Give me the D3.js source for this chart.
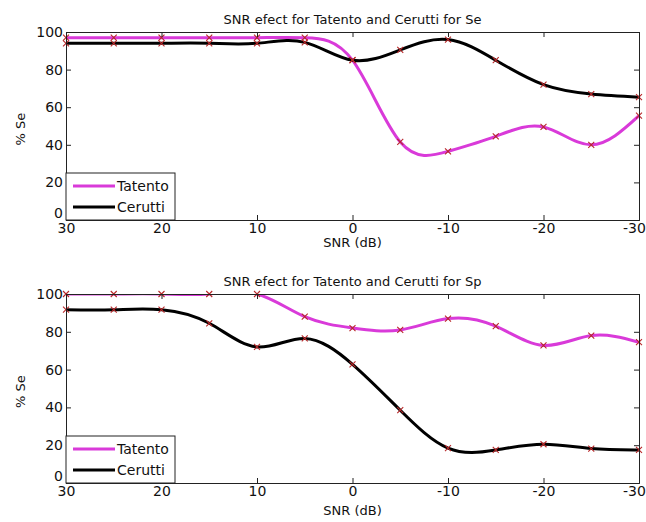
<!DOCTYPE html>
<html>
<head>
<meta charset="utf-8">
<script src="https://cdn.jsdelivr.net/npm/d3@7"></script>
<style>
  body { margin: 0; background: #fff; }
  text { font-family: "DejaVu Sans", Arial, sans-serif; fill: #111; }
</style>
</head>
<body>
<div id="chart"></div>
<script>
var snr = [30, 25, 20, 15, 10, 5, 0, -5, -10, -15, -20, -25, -30];
var xTicks = [30, 20, 10, 0, -10, -20, -30];
var yTicks = [0, 20, 40, 60, 80, 100];

var tatentoSe = [97, 97, 97, 97, 97, 97, 85, 41.5, 36.5, 44.5, 49.5, 40, 55.5];
var ceruttiSe = [94, 94, 94, 94, 94, 94.5, 85, 90.5, 96, 85, 72, 67, 65.3];
var tatentoSp = [100, 100, 100, 100, 100, 88, 82, 81, 87, 83, 72.8, 78, 74.5];
var ceruttiSp = [91.7, 91.7, 91.7, 84.5, 72, 76.5, 62.8, 38.5, 18.5, 17.5, 20.5, 18.2, 17.5];

var panels = [
    { title: 'SNR efect for Tatento and Cerutti for Se', top: 32, bottom: 220, lab: 27, t: tatentoSe, c: ceruttiSe },
    { title: 'SNR efect for Tatento and Cerutti for Sp', top: 294, bottom: 483, lab: 32, t: tatentoSp, c: ceruttiSp }
];

var W = 646, H = 522;
var left = 66, right = 639;
var magenta = '#d93ad9';
var markClr = '#b8282a';

var svg = d3.select('#chart').append('svg')
    .attr('width', W).attr('height', H);

var x = d3.scaleLinear().domain([30, -30]).range([left, right]);

panels.forEach(function(p, pi) {
    var y = d3.scaleLinear().domain([0, 100]).range([p.bottom, p.top]);
    var g = svg.append('g');

    svg.append('clipPath').attr('id', 'clip' + pi)
        .append('rect')
        .attr('x', left).attr('y', p.top)
        .attr('width', right - left).attr('height', p.bottom - p.top);

    var line = d3.line()
        .x(function(d) { return x(d[0]); })
        .y(function(d) { return y(d[1]); })
        .curve(d3.curveNatural);

    var series = [
        { vals: p.t, clr: magenta, w: 3 },
        { vals: p.c, clr: '#000', w: 3 }
    ];
    var plot = g.append('g').attr('clip-path', 'url(#clip' + pi + ')');
    series.forEach(function(s) {
        var pts = snr.map(function(v, i) { return [v, s.vals[i]]; });
        plot.append('path')
            .datum(pts)
            .attr('d', line)
            .style('fill', 'none')
            .style('stroke', s.clr)
            .style('stroke-width', s.w);

        g.selectAll(null).data(pts).enter().append('path')
            .attr('d', function(d) {
                var cx = x(d[0]), cy = y(d[1]), r = 3;
                return 'M' + (cx - r) + ',' + (cy - r) + 'L' + (cx + r) + ',' + (cy + r) +
                    'M' + (cx - r) + ',' + (cy + r) + 'L' + (cx + r) + ',' + (cy - r);
            })
            .style('stroke', markClr)
            .style('stroke-width', 1.1)
            .style('fill', 'none');
    });

    // axes with inward ticks on every side
    var tk = 5;
    var xb = g.append('g').attr('transform', 'translate(0,' + p.bottom + ')')
        .call(d3.axisBottom(x).tickValues(xTicks).tickSize(-tk).tickPadding(3).tickFormat(function(d) { return String(d); }));
    xb.selectAll('.tick text').filter(function(d) { return d === -30; }).attr('dx', -5);
    var yl = g.append('g').attr('transform', 'translate(' + left + ',0)')
        .call(d3.axisLeft(y).tickValues(yTicks).tickSize(-tk).tickPadding(3));
    yl.selectAll('.tick text').filter(function(d) { return d === 0; }).attr('dy', '-0.15em');
    g.append('g').attr('transform', 'translate(0,' + p.top + ')')
        .call(d3.axisTop(x).tickValues(xTicks).tickSize(-tk).tickFormat(''));
    g.append('g').attr('transform', 'translate(' + right + ',0)')
        .call(d3.axisRight(y).tickValues(yTicks).tickSize(-tk).tickFormat(''));

    g.selectAll('.domain').style('stroke', '#222');
    g.selectAll('.tick line').style('stroke', '#222');
    g.selectAll('.tick text').style('font-size', '14px').style('font-family', '"DejaVu Sans", Arial, sans-serif').style('fill', '#111');

    // title and labels
    g.append('text')
        .attr('x', (left + right) / 2).attr('y', p.top - 8)
        .attr('text-anchor', 'middle')
        .style('font-size', '13px')
        .text(p.title);
    g.append('text')
        .attr('x', (left + right) / 2).attr('y', p.bottom + p.lab)
        .attr('text-anchor', 'middle')
        .style('font-size', '13px')
        .text('SNR (dB)');
    g.append('text')
        .attr('transform', 'translate(25,' + ((p.top + p.bottom) / 2 + 3) + ') rotate(-90)')
        .attr('text-anchor', 'middle')
        .style('font-size', '13px')
        .text('% Se');

    // legend
    var lg = g.append('g').attr('transform', 'translate(' + left + ',' + (p.bottom - 47) + ')');
    lg.append('rect')
        .attr('width', 109).attr('height', 47)
        .style('fill', '#fff').style('stroke', '#222').style('stroke-width', 1);
    [['Tatento', magenta], ['Cerutti', '#000']].forEach(function(e, i) {
        var yy = 13 + i * 21;
        lg.append('line')
            .attr('x1', 7).attr('x2', 49).attr('y1', yy).attr('y2', yy)
            .style('stroke', e[1]).style('stroke-width', 3);
        lg.append('text')
            .attr('x', 51).attr('y', yy + 5)
            .style('font-size', '14px')
            .text(e[0]);
    });
});
</script>
</body>
</html>
